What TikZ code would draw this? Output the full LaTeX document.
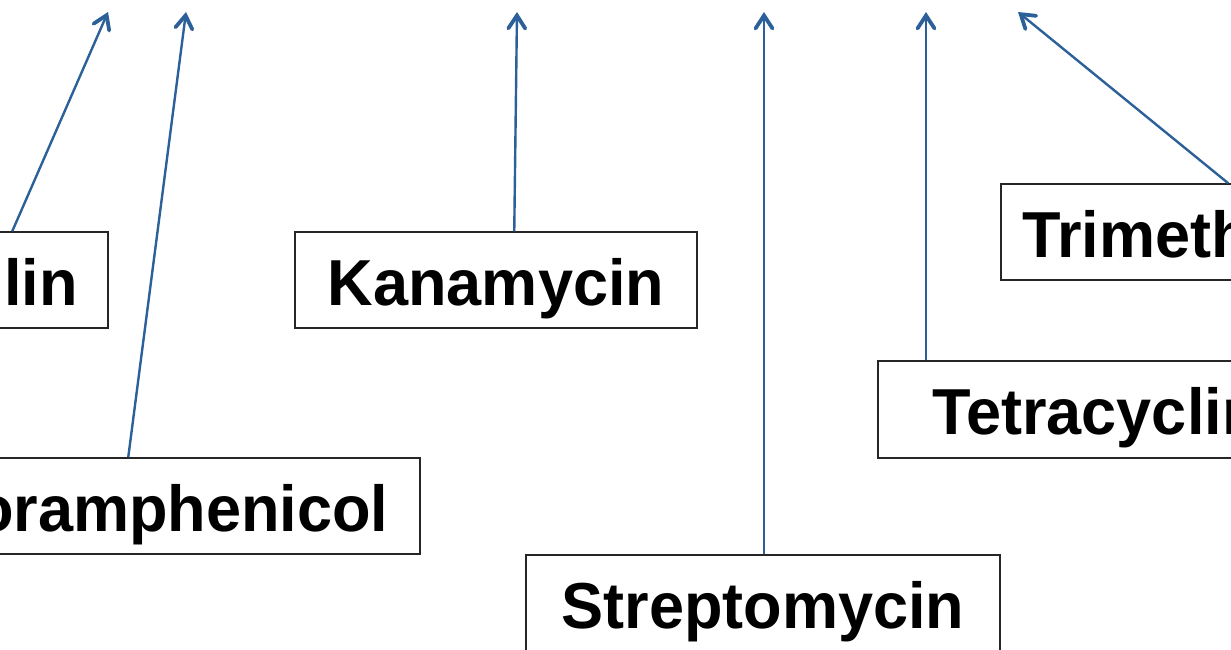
\documentclass[tikz,border=0pt]{standalone}
\usepackage{fontspec}
\setmainfont{Liberation Sans}[FakeStretch=0.97]
\usetikzlibrary{arrows.meta,calc}
\definecolor{arrowblue}{RGB}{44,96,152}
\begin{document}
\begin{tikzpicture}[x=1pt,y=-1pt,
  drugbox/.style={draw=black!85, line width=1.5pt, inner sep=0pt,
    minimum height=96pt, text height=50pt, text depth=0pt,
    font=\fontsize{65}{72}\selectfont\bfseries},
  resist/.style={draw=arrowblue, line width=2.4pt,
    -{Straight Barb[length=13pt,width=17pt,line width=3.8pt,line cap=round]}}]
\useasboundingbox (0,0) rectangle (1231,649);
\clip (0,0) rectangle (1231,649);

% antibiotic boxes
\node[drugbox, minimum width=362pt] (amp) at (-73,280) {Ampicillin};
\node[drugbox, minimum width=578pt] (chl) at (131,506) {Chloramphenicol};
\node[drugbox, minimum width=402pt] (kan) at (496,280) {Kanamycin};
\node[drugbox, minimum width=474pt] (str) at (763,603) {Streptomycin};
\node[drugbox, minimum width=472pt, minimum height=97pt] (tet) at (1114,409.5) {Tetracycline};
\node[drugbox, minimum width=445pt] (tri) at (1223.5,232) {Trimethoprim};

% arrow tips along the top edge
\coordinate (tamp) at (108,12);
\coordinate (tchl) at (186,12);
\coordinate (tkan) at (517,12);
\coordinate (tstr) at (764,12);
\coordinate (ttet) at (926,12);
\coordinate (ttri) at (1018,12);

% connectors
\draw[resist] ($(amp.north west)+(267,0)$) -- (tamp);
\draw[resist] ($(chl.north west)+(287,0)$) -- (tchl);
\draw[resist] ($(kan.north west)+(220,0)$) -- (tkan);
\draw[resist] (tstr |- str.north) -- (tstr);
\draw[resist] (ttet |- tet.north) -- (ttet);
\draw[resist] ($(tri.north west)+(228,0)$) -- (ttri);
\end{tikzpicture}
\end{document}
